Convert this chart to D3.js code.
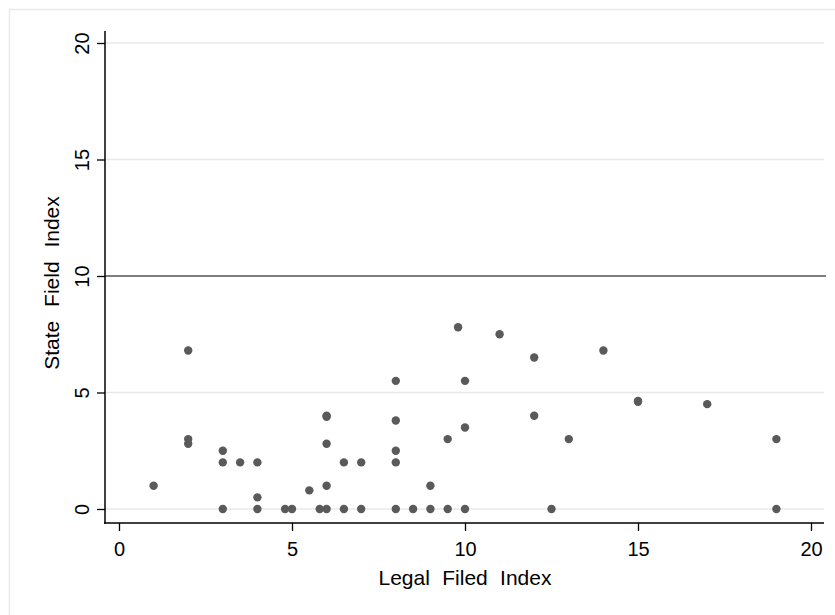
<!DOCTYPE html>
<html>
<head>
<meta charset="utf-8">
<script src="https://cdn.jsdelivr.net/npm/d3@7"></script>
<style>
  html, body { margin: 0; padding: 0; background: #ffffff; }
  svg { display: block; }
  text { font-family: "Liberation Sans", Arial, Helvetica, sans-serif; fill: #000; }
</style>
</head>
<body>
<svg id="chart" width="835" height="615"></svg>
<script>
// Legal Filed Index (x) against State Field Index (y), one entry per observation
const legalIndex = [
  1,
  2, 2, 2,
  3, 3, 3,
  3.5,
  4, 4, 4,
  4.8, 5,
  5.5,
  5.8, 6, 6, 6, 6, 6,
  6.5, 6.5,
  7, 7,
  8, 8, 8, 8, 8,
  8.5,
  9, 9,
  9.5, 9.5,
  9.8,
  10, 10, 10,
  11,
  12, 12,
  12.5,
  13,
  14,
  15, 15,
  17,
  19, 19
];
const stateIndex = [
  1,
  6.8, 3, 2.8,
  2.5, 2, 0,
  2,
  2, 0.5, 0,
  0, 0,
  0.8,
  0, 0, 1, 2.8, 4, 3.96,
  2, 0,
  2, 0,
  5.5, 3.8, 2.5, 2, 0,
  0,
  1, 0,
  3, 0,
  7.8,
  5.5, 3.5, 0,
  7.5,
  6.5, 4,
  0,
  3,
  6.8,
  4.6, 4.64,
  4.5,
  3, 0
];

const xTicks = [0, 5, 10, 15, 20];
const yTicks = [0, 5, 10, 15, 20];
const yGridValues = [0, 5, 15, 20];
const referenceLine = 10;
const xTitle = "Legal Filed Index";
const yTitle = "State Field Index";

const points = legalIndex.map((v, i) => ({ x: v, y: stateIndex[i] }));

const svg = d3.select("#chart");

// plot region
const plot = { left: 105, right: 824, top: 31, bottom: 523 };

const x = d3.scaleLinear().domain([0, 20]).range([119, 811]);
const y = d3.scaleLinear().domain([0, 20]).range([509, 43]);

// light outer frame of the graph region
svg.append("line")
  .attr("x1", 9).attr("x2", 835).attr("y1", 9.5).attr("y2", 9.5)
  .attr("stroke", "#e9e9e9").attr("stroke-width", 1.5);
svg.append("line")
  .attr("x1", 9.5).attr("x2", 9.5).attr("y1", 9).attr("y2", 615)
  .attr("stroke", "#e9e9e9").attr("stroke-width", 1.5);

// horizontal grid lines
svg.append("g")
  .selectAll("line")
  .data(yGridValues)
  .join("line")
  .attr("x1", plot.left).attr("x2", plot.right)
  .attr("y1", d => y(d)).attr("y2", d => y(d))
  .attr("stroke", "#e8e8e8").attr("stroke-width", 1.5);

// reference line
svg.append("line")
  .attr("x1", plot.left).attr("x2", plot.right + 2)
  .attr("y1", y(referenceLine)).attr("y2", y(referenceLine))
  .attr("stroke", "#000").attr("stroke-width", 1.1);

// markers
svg.append("g")
  .selectAll("circle")
  .data(points)
  .join("circle")
  .attr("cx", d => x(d.x))
  .attr("cy", d => y(d.y))
  .attr("r", 4.2)
  .attr("fill", "#5a5a5a");

// x axis
const xAxis = svg.append("g")
  .attr("transform", `translate(0,${plot.bottom})`)
  .call(d3.axisBottom(x).tickValues(xTicks).tickSize(8).tickPadding(0).tickFormat(d3.format("d")));
xAxis.select(".domain").remove();
xAxis.selectAll(".tick line").attr("stroke", "#000").attr("stroke-width", 1.3);
xAxis.selectAll(".tick text")
  .attr("font-size", 20)
  .attr("font-family", "Liberation Sans, Arial, sans-serif")
  .attr("dy", null)
  .attr("y", 33);
xAxis.append("line")
  .attr("x1", plot.left - 1).attr("x2", plot.right)
  .attr("y1", 0).attr("y2", 0)
  .attr("stroke", "#000").attr("stroke-width", 1.5);

// y axis with vertical tick labels
const yAxis = svg.append("g")
  .attr("transform", `translate(${plot.left},0)`)
  .call(d3.axisLeft(y).tickValues(yTicks).tickSize(8).tickFormat(d3.format("d")));
yAxis.select(".domain").remove();
yAxis.selectAll(".tick line").attr("stroke", "#000").attr("stroke-width", 1.3);
yAxis.selectAll(".tick text")
  .attr("font-size", 20)
  .attr("font-family", "Liberation Sans, Arial, sans-serif")
  .attr("x", null).attr("dy", null)
  .attr("text-anchor", "middle")
  .attr("transform", "translate(-16,0) rotate(-90)");
yAxis.append("line")
  .attr("x1", 0).attr("x2", 0)
  .attr("y1", plot.top).attr("y2", plot.bottom + 0.75)
  .attr("stroke", "#000").attr("stroke-width", 1.5);

// axis titles
svg.append("text")
  .attr("x", (x(0) + x(20)) / 2)
  .attr("y", 585)
  .attr("text-anchor", "middle")
  .attr("font-size", 21)
  .attr("word-spacing", 6.5)
  .text(xTitle);

svg.append("text")
  .attr("transform", `translate(58.5,${(y(0) + y(20)) / 2 + 7}) rotate(-90)`)
  .attr("text-anchor", "middle")
  .attr("font-size", 21)
  .attr("word-spacing", 8)
  .text(yTitle);
</script>
</body>
</html>
